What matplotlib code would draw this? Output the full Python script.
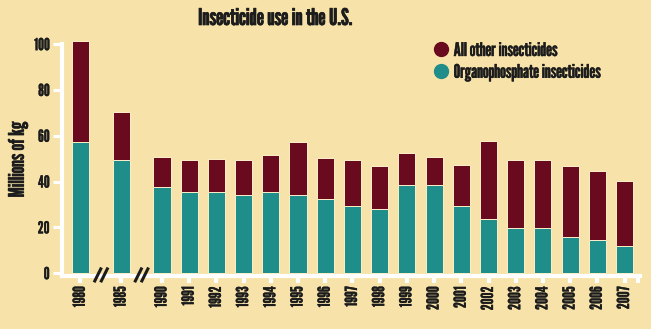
import matplotlib
matplotlib.use("Agg")
import numpy as np
from matplotlib import pyplot as plt
from matplotlib import patheffects as pe
from matplotlib.lines import Line2D

years = ["1980", "1985", "1990", "1991", "1992", "1993", "1994", "1995", "1996", "1997",
         "1998", "1999", "2000", "2001", "2002", "2003", "2004", "2005", "2006", "2007"]
# millions of kg
organophosphate = [57.2, 49.4, 37.6, 35.5, 35.5, 34.1, 35.5, 34.1, 32.2, 29.3,
                   28.2, 38.6, 38.3, 29.3, 23.8, 19.7, 19.7, 15.8, 14.5, 12.1]
total = [101.2, 70.4, 50.7, 49.3, 50.0, 49.3, 51.7, 57.3, 50.3, 49.3,
         46.6, 52.5, 50.7, 47.4, 57.9, 49.3, 49.3, 46.8, 44.5, 40.3]
yticks = [0, 20, 40, 60, 80, 100]

BG = "#F7E3A9"
TEAL = "#1F8D89"
WINE = "#6A0A1E"
INK = "#1C1C1C"

plt.rcParams['font.family'] = ['League Gothic', 'DejaVu Sans']


def heavy(t, lw=0.3):
    # League Gothic is a bit light next to the original face, thicken it slightly
    t.set_path_effects([pe.withStroke(linewidth=lw, foreground=INK)])


def main():
    op = np.array(organophosphate)
    other = np.array(total) - op
    # 1980 and 1985 sit apart from the yearly run, with axis breaks between
    x = np.concatenate([[-3, -1.5], np.arange(len(years) - 2)])

    fig = plt.figure(figsize=(6.51, 3.29), dpi=100, facecolor=BG)
    ax = fig.add_axes([0.0952, 0.1626, 0.888, 0.717], facecolor=BG)

    ax.bar(x, op, width=0.63, color=TEAL, edgecolor="#FBEFC9", linewidth=0.7, zorder=3)
    ax.bar(x, other, bottom=op, width=0.63, color=WINE, edgecolor="#FBEFC9",
           linewidth=0.7, zorder=3)

    ax.set_xlim(-3.676, 17.57)
    ax.set_ylim(-1, 102)

    for s in ["top", "right"]:
        ax.spines[s].set_visible(False)
    for s in ["left", "bottom"]:
        ax.spines[s].set_color("white")
        ax.spines[s].set_linewidth(3)
    ax.spines["left"].set_bounds(-1, 100)

    ax.set_yticks(yticks)
    ax.tick_params(axis="y", colors="white", length=6.5, width=2.2, pad=2.5,
                   labelcolor=INK, labelsize=12)
    ax.set_xticks(x)
    ax.set_xticklabels(years, rotation=90)
    ax.set_xticks([17.5], minor=True)
    ax.tick_params(axis="x", which="both", colors="white", length=5, width=3, pad=3,
                   labelcolor=INK, labelsize=12)
    for t in ax.get_yticklabels() + ax.get_xticklabels():
        heavy(t, 0.2)

    # axis break marks
    for c in [-2.24, -0.75]:
        for o in [-0.12, 0.12]:
            ax.plot([c + o - 0.11, c + o + 0.11], [-0.023, 0.028], color=INK, lw=2.2,
                    transform=ax.get_xaxis_transform(), clip_on=False, zorder=5)

    yl = ax.set_ylabel("Millions of kg", fontsize=15.5, color=INK)
    ax.yaxis.set_label_coords(-0.059, 0.49)
    heavy(yl, 0.35)

    title = fig.suptitle("Insecticide use in the U.S.", x=276 / 651, y=1 - 18.5 / 329,
                         va="center", fontsize=16.5, color=INK)
    heavy(title, 0.5)

    handles = [Line2D([], [], marker="o", ls="", color=WINE, markersize=10),
               Line2D([], [], marker="o", ls="", color=TEAL, markersize=10)]
    leg = ax.legend(handles, ["All other insecticides", "Organophosphate insecticides"],
                    loc="upper left", bbox_to_anchor=(432 / 651, 1 - 41 / 329),
                    bbox_transform=fig.transFigure, frameon=False, borderaxespad=0,
                    borderpad=0, handlelength=1.0, handletextpad=0.15, labelspacing=0.15,
                    prop={"size": 13.5})
    for t in leg.get_texts():
        t.set_color(INK)
        heavy(t, 0.3)

    fig.savefig("out.png", dpi=100, facecolor=BG)


if __name__ == '__main__':
    main()
